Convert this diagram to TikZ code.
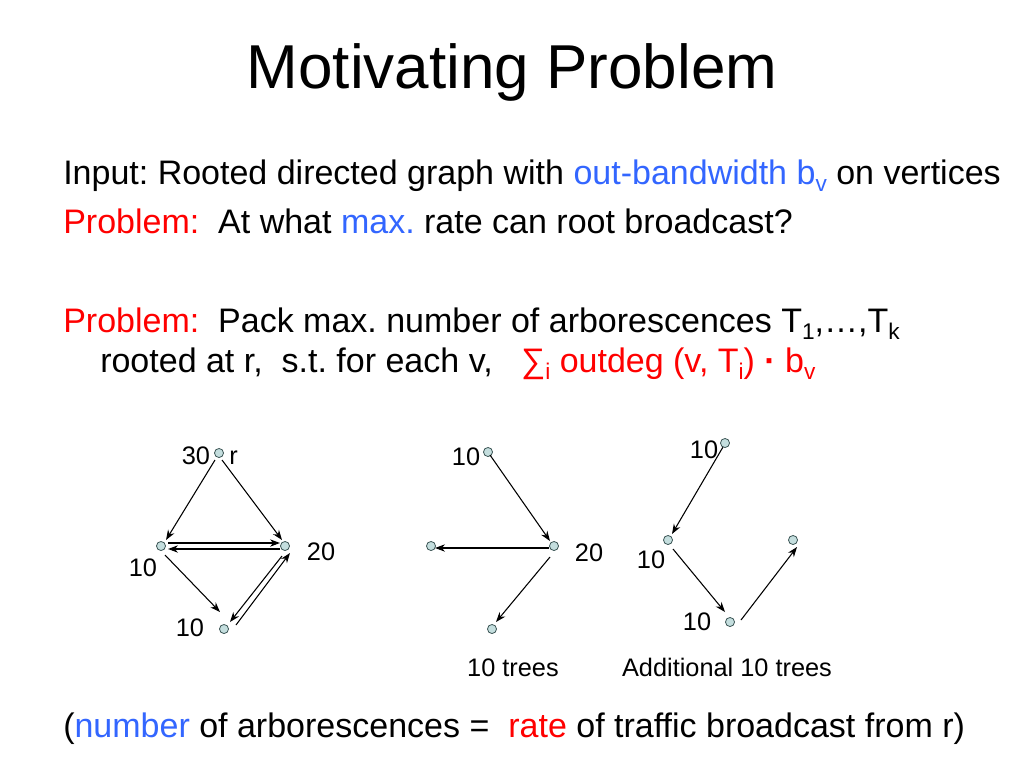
\documentclass[tikz,border=0pt]{standalone}
\usepackage{fontspec}
\setmainfont{Liberation Sans}
\usetikzlibrary{arrows.meta,calc}
\definecolor{hblue}{RGB}{51,102,255}
\definecolor{hred}{RGB}{255,0,0}
\definecolor{vfill}{RGB}{196,222,222}
\definecolor{vline}{RGB}{60,85,85}
\newcommand{\lo}[1]{\raisebox{-5.5pt}{\fontsize{17}{17}\selectfont #1}}
\frenchspacing
\tikzset{
  vtx/.style={circle,draw=vline,fill=vfill,line width=0.6pt,inner sep=0pt,minimum size=6.8pt},
  arr/.style={line width=0.8pt,-{Stealth[length=7.5pt,width=5.5pt]}},
  body/.style={anchor=base west,inner sep=0pt,font=\fontsize{25.5}{30}\selectfont},
  lab/.style={anchor=base,inner sep=0pt,font=\fontsize{19}{22}\selectfont}
}
\begin{document}
\begin{tikzpicture}[x=0.75pt,y=-0.75pt]
\useasboundingbox (0,0) rectangle (1024,768);
% title
\node[anchor=base,inner sep=0pt,font=\fontsize{46.5}{50}\selectfont] (title) at (512,88) {Motivating Problem};
% body
\node[body] (l1) at (63,184) {Input: Rooted directed graph with \textcolor{hblue}{out-bandwidth b\lo{v}} on vertices};
\node[body] (l2) at (63,233) {\textcolor{hred}{Problem:}\ \ At what \textcolor{hblue}{max.} rate can root broadcast?};
\node[body] (l3) at (63,332) {\textcolor{hred}{Problem:}\ \ Pack max. number of arborescences T\lo{1},…,T\lo{k}};
\node[body] (l4) at (100,372) {rooted at r,\ \ s.t. for each v,\ \ \ \textcolor{hred}{∑\lo{i} outdeg (v, T\lo{i}) \textbf{·} b\lo{v}}};
\node[body] (l5) at (63,737) {(\textcolor{hblue}{number} of arborescences =\ \ \textcolor{hred}{rate} of traffic broadcast from r)};
% graph 1
\node[vtx] (r) at (219,453) {};
\node[vtx] (a) at (161,546) {};
\node[vtx] (b) at (285,546) {};
\node[vtx] (c) at (224,629) {};
\node[lab] (ra) at (196,464) {30};
\node[lab,anchor=base west] (rb) at (229,464) {r};
\node[lab] (al) at (143,576) {10};
\node[lab] (bl) at (321,560) {20};
\node[lab] (cl) at (190,636) {10};
\draw[arr] ($(r)+(-4,7)$) -- ($(a)+(5,-6)$);
\draw[arr] ($(r)+(3,7)$) -- ($(b)+(-3,-6)$);
\draw[arr] ($(a)+(7,-3)$) -- ($(b)+(-5,-3)$);
\draw[arr] ($(b)+(-5,3)$) -- ($(a)+(7,3)$);
\draw[arr] ($(a)+(4,9)$) -- ($(c)+(-4,-17)$);
\draw[arr] ($(b)+(-3,10)$) -- ($(c)+(6,-7)$);
\draw[arr] ($(c)+(12,-4)$) -- ($(b)+(5,7)$);
% graph 2
\node[vtx] (t2) at (488,452) {};
\node[vtx] (m2) at (554,546) {};
\node[vtx] (f2) at (431,546) {};
\node[vtx] (b2) at (492,629) {};
\node[lab] (t2l) at (466,465) {10};
\node[lab] (m2l) at (589,561) {20};
\draw[arr] ($(t2)+(2,3)$) -- ($(m2)+(-4,-5)$);
\draw[arr] ($(m2)+(-5,2)$) -- ($(f2)+(4,2)$);
\draw[arr] ($(m2)+(-4,11)$) -- ($(b2)+(4,-7)$);
\node[lab] (cap2) at (513,676) {10 trees};
% graph 3
\node[vtx] (t3) at (725,443) {};
\node[vtx] (l3n) at (668,540) {};
\node[vtx] (b3) at (730,622) {};
\node[vtx] (r3) at (793,540) {};
\node[lab] (t3l) at (704,458) {10};
\node[lab] (l3l) at (651,568) {10};
\node[lab] (b3l) at (697,630) {10};
\draw[arr] ($(t3)+(-2,4)$) -- ($(l3n)+(4,-6)$);
\draw[arr] ($(l3n)+(5,9)$) -- ($(b3)+(-5,-10)$);
\draw[arr] ($(b3)+(11,-2)$) -- ($(r3)+(4,7)$);
\node[lab] (cap3) at (727,676) {Additional 10 trees};
\end{tikzpicture}
\end{document}
